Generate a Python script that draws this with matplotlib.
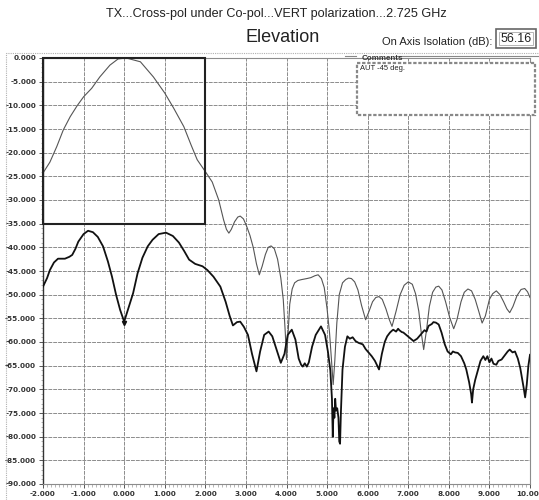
import matplotlib
matplotlib.use("Agg")
import matplotlib.pyplot as plt
from matplotlib.patches import Rectangle
from matplotlib.lines import Line2D
from matplotlib.ticker import MultipleLocator, FormatStrFormatter

# ---------------- data ----------------
co_x = [-2.0, -1.83, -1.66, -1.5, -1.33, -1.16, -1.0, -0.8, -0.6, -0.35, -0.15, 0.05,
        0.4, 0.72, 1.0, 1.22, 1.47, 1.65, 1.8, 2.0, 2.17, 2.33, 2.45, 2.52, 2.58, 2.64,
        2.72, 2.8, 2.86, 2.94, 3.02, 3.1, 3.18, 3.26, 3.33, 3.4, 3.48, 3.55, 3.62, 3.7,
        3.78, 3.86, 3.92, 3.97, 4.0, 4.04, 4.08, 4.14, 4.2, 4.28, 4.38, 4.5, 4.6, 4.7,
        4.78, 4.86, 4.93, 5.0, 5.06, 5.11, 5.15, 5.19, 5.24, 5.3, 5.38, 5.46, 5.53, 5.6,
        5.68, 5.76, 5.85, 5.95, 6.03, 6.12, 6.2, 6.28, 6.36, 6.45, 6.53, 6.6, 6.7, 6.8,
        6.9, 7.0, 7.1, 7.18, 7.26, 7.32, 7.38, 7.45, 7.52, 7.6, 7.68, 7.75, 7.83, 7.92,
        8.02, 8.12, 8.2, 8.3, 8.38, 8.47, 8.56, 8.65, 8.74, 8.82, 8.9, 9.0, 9.08, 9.17,
        9.26, 9.35, 9.43, 9.5, 9.58, 9.68, 9.78, 9.87, 9.94, 10.0]
co_y = [-24.3, -22.0, -18.7, -15.2, -12.4, -10.1, -8.2, -6.4, -4.0, -1.5, -0.2, 0.0,
        -0.8, -4.0, -7.4, -10.6, -14.5, -18.4, -21.5, -24.0, -26.2, -30.0, -34.2, -36.2, -37.0, -36.2,
        -34.6, -33.6, -33.4, -34.0, -35.6, -37.5, -40.0, -43.5, -45.8, -44.0, -41.5, -40.0, -39.7, -40.3,
        -42.5, -46.5, -51.0, -58.0, -63.7, -58.0, -52.0, -48.8, -47.5, -47.0, -46.8, -46.6, -46.4, -46.0,
        -45.8, -46.6, -48.5, -53.0, -58.0, -64.0, -69.0, -64.0, -56.0, -50.0, -47.5, -46.8, -46.5, -46.6,
        -47.3, -49.0, -52.3, -55.3, -53.6, -51.5, -50.6, -50.4, -51.0, -53.0, -55.2, -56.7, -53.5, -50.0,
        -48.0, -47.3, -47.8, -49.8, -53.5, -58.0, -61.6, -57.5, -52.5, -49.5, -48.4, -48.2, -49.0, -51.5,
        -54.8, -57.2, -55.3, -51.5, -49.5, -48.8, -49.2, -51.0, -53.6, -56.0, -54.5, -51.0, -49.8, -49.2,
        -50.0, -51.5, -53.0, -53.8, -52.5, -50.2, -48.9, -48.7, -49.4, -50.6]

xp_x = [-2.0, -1.9, -1.83, -1.73, -1.63, -1.46, -1.35, -1.28, -1.2, -1.13, -1.0, -0.89,
        -0.77, -0.65, -0.52, -0.4, -0.3, -0.2, -0.1, 0.0, 0.1, 0.22, 0.33, 0.45, 0.58,
        0.7, 0.85, 1.03, 1.2, 1.35, 1.48, 1.6, 1.75, 1.93, 2.05, 2.2, 2.37, 2.5, 2.6,
        2.68, 2.78, 2.86, 2.95, 3.05, 3.15, 3.26, 3.35, 3.45, 3.56, 3.65, 3.75, 3.86,
        3.95, 4.03, 4.13, 4.22, 4.3, 4.36, 4.4, 4.45, 4.5, 4.55, 4.63, 4.72, 4.85, 4.95,
        5.02, 5.08, 5.12, 5.14, 5.16, 5.18, 5.2, 5.22, 5.25, 5.28, 5.3, 5.32, 5.34, 5.38,
        5.44, 5.5, 5.56, 5.63, 5.7, 5.78, 5.88, 5.95, 6.02, 6.1, 6.18, 6.28, 6.35, 6.42,
        6.48, 6.55, 6.6, 6.63, 6.7, 6.75, 6.78, 6.84, 6.88, 6.95, 7.05, 7.13, 7.22, 7.3,
        7.4, 7.45, 7.5, 7.58, 7.62, 7.68, 7.75, 7.82, 7.9, 7.97, 8.05, 8.1, 8.15, 8.22,
        8.3, 8.38, 8.43, 8.5, 8.55, 8.57, 8.6, 8.65, 8.72, 8.78, 8.85, 8.9, 8.95, 9.0,
        9.05, 9.1, 9.17, 9.22, 9.3, 9.38, 9.45, 9.5, 9.57, 9.63, 9.7, 9.76, 9.8, 9.85,
        9.88, 9.92, 9.96, 10.0]
xp_y = [-48.3, -46.5, -44.8, -43.2, -42.4, -42.4, -42.0, -41.6, -40.3, -38.8, -37.2, -36.5,
        -36.8, -37.8, -39.8, -43.0, -46.2, -50.0, -53.2, -55.7, -53.0, -49.7, -45.5, -42.2, -39.8,
        -38.4, -37.2, -36.9, -37.6, -39.0, -40.8, -42.6, -43.5, -44.0, -44.8, -46.2, -48.3, -51.5, -54.5,
        -56.5, -55.8, -55.7, -56.8, -58.5, -62.5, -66.2, -62.0, -58.5, -57.8, -58.8, -61.5, -64.4,
        -62.5, -58.5, -57.4, -59.5, -63.5, -64.8, -65.2, -64.5, -65.2, -64.3, -61.0, -58.5, -56.7, -58.5,
        -62.0, -66.0, -72.0, -80.0, -74.0, -76.0, -72.0, -74.5, -74.0, -76.0, -81.0, -81.5, -75.0, -65.8,
        -61.0, -58.8, -59.3, -59.0, -59.8, -60.2, -60.5, -61.5, -62.2, -63.0, -64.0, -65.8, -62.5, -60.0,
        -58.8, -58.0, -57.6, -57.4, -57.8, -57.2, -57.5, -57.9, -58.0, -58.5, -59.2, -59.8, -59.3, -58.5,
        -57.5, -57.8, -56.6, -56.2, -55.8, -55.9, -56.3, -58.0, -60.5, -62.0, -62.6, -62.0, -62.2, -62.3,
        -63.0, -64.5, -65.8, -68.5, -71.0, -72.8, -70.0, -68.0, -65.8, -64.0, -63.0, -63.8, -63.0, -64.3,
        -63.5, -64.6, -64.8, -64.0, -63.7, -62.8, -62.0, -61.6, -62.2, -62.0, -63.5, -65.5, -67.5, -70.0,
        -71.7, -69.0, -65.0, -62.7]

x_ticks = [-2, -1, 0, 1, 2, 3, 4, 5, 6, 7, 8, 9, 10]
y_ticks = [0, -5, -10, -15, -20, -25, -30, -35, -40, -45, -50, -55, -60, -65, -70, -75, -80, -85, -90]

title_text = "TX...Cross-pol under Co-pol...VERT polarization...2.725 GHz"
sub_title = "Elevation"
iso_label = "On Axis Isolation (dB):"
iso_value = "56.16"
comments_label = "Comments"
comments_text = "AUT -45 deg."

# ---------------- figure ----------------
W, H = 539, 500
fig = plt.figure(figsize=(W / 100, H / 100), dpi=100)
plt.rcParams['font.family'] = ['Liberation Sans', 'DejaVu Sans']

L, R, T, B = 43, 530, 58, 484
ax = fig.add_axes([L / W, 1 - B / H, (R - L) / W, (B - T) / H])
ax.set_xlim(-2, 10)
ax.set_ylim(-90, 0)

gridc = '#8c8c8c'
ax.set_xticks(x_ticks)
ax.set_yticks(y_ticks)
ax.xaxis.set_major_formatter(FormatStrFormatter('%.3f'))
ax.yaxis.set_major_formatter(FormatStrFormatter('%.3f'))
ax.xaxis.set_minor_locator(MultipleLocator(0.1))
ax.yaxis.set_minor_locator(MultipleLocator(1))
ax.grid(True, which='major', color=gridc, linestyle=(0, (4, 1)), linewidth=0.7)
ax.tick_params(axis='both', which='major', length=3, width=0.7, color='#555555',
               labelsize=5.2, pad=2)
ax.tick_params(axis='both', which='minor', length=1.8, width=0.5, color='#999999')
for lab in ax.get_xticklabels() + ax.get_yticklabels():
    lab.set_fontweight('bold')
    lab.set_family('DejaVu Sans')
    lab.set_color('#333333')
for s in ['top', 'right', 'bottom']:
    ax.spines[s].set_color(gridc)
    ax.spines[s].set_linewidth(0.8)
ax.spines['left'].set_color('#333333')
ax.spines['left'].set_linewidth(1.0)

ax.plot(co_x, co_y, color='#555555', linewidth=0.8, zorder=3)
ax.plot(xp_x, xp_y, color='#111111', linewidth=1.3, zorder=4)
ax.plot([0], [-55.9], marker='v', color='#111111', markersize=3, zorder=5)
ax.add_patch(Rectangle((-2, -35), 4, 35, fill=False, edgecolor='#222222',
                       linewidth=1.5, zorder=5, clip_on=False))

# ---------------- overlay (pixel coordinates) ----------------
ov = fig.add_axes([0, 0, 1, 1], facecolor='none')
ov.set_xlim(0, W)
ov.set_ylim(H, 0)
ov.axis('off')

# outer dotted border
ov.add_line(Line2D([6, 6, W], [H, 53, 53], color='#b0b0b0', linewidth=0.8,
                   linestyle=(0, (1, 1))))

fig.text(276 / W, 1 - 14 / H, title_text, ha='center', va='center',
         fontsize=9.1, color='#222222')
fig.text(283 / W, 1 - 38 / H, sub_title, ha='center', va='center',
         fontsize=13, color='#222222')
fig.text(492 / W, 1 - 42 / H, iso_label, ha='right', va='center',
         fontsize=8, color='#222222')
ov.add_patch(Rectangle((496, 29), 40, 19, facecolor='white', edgecolor='#666666',
                       linewidth=1.2))
ov.add_patch(Rectangle((499, 32), 34, 13, facecolor='none', edgecolor='#aaaaaa',
                       linewidth=0.6))
ov.text(516, 39, iso_value, ha='center', va='center', fontsize=9, color='#222222')

# comments box
ov.add_patch(Rectangle((357, 63), 178, 52, facecolor='white', edgecolor='#888888',
                       linewidth=1.6, linestyle=(0, (1.5, 0.8))))
ov.add_line(Line2D([345, 356], [56, 56], color='#888888', linewidth=0.8))
ov.add_line(Line2D([398, 539], [56, 56], color='#888888', linewidth=0.8))
ov.text(362, 58.5, comments_label, ha='left', va='center', fontsize=5.8,
        fontweight='bold', color='#333333')
ov.text(360, 68, comments_text, ha='left', va='center', fontsize=5.4,
        color='#222222')

fig.savefig('out.png', dpi=100)
